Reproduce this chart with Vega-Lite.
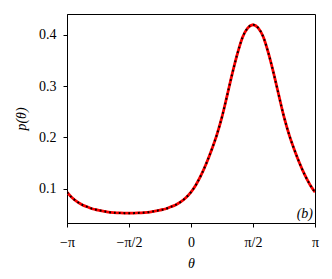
{
  "$schema": "https://vega.github.io/schema/vega-lite/v6.json",
  "width": 248,
  "height": 209,
  "autosize": "none",
  "padding": {"left": 67, "top": 14, "right": 17, "bottom": 56},
  "background": "white",
  "config": {
    "view": {"stroke": "#000000", "strokeWidth": 1},
    "font": "Liberation Serif",
    "axis": {
      "domainColor": "#000000",
      "tickColor": "#000000",
      "tickSize": 4,
      "labelColor": "#000000",
      "titleColor": "#000000",
      "labelFont": "Liberation Serif",
      "titleFont": "Liberation Serif",
      "labelFontSize": 14,
      "titleFontSize": 14,
      "titleFontWeight": "normal",
      "titleFontStyle": "italic",
      "grid": false
    }
  },
  "datasets": {
    "curve": [
      {"theta": -3.14159, "p": 0.093},
      {"theta": -3.01069, "p": 0.082},
      {"theta": -2.87979, "p": 0.074},
      {"theta": -2.74889, "p": 0.068},
      {"theta": -2.61799, "p": 0.064},
      {"theta": -2.48709, "p": 0.060},
      {"theta": -2.35619, "p": 0.058},
      {"theta": -2.22529, "p": 0.056},
      {"theta": -2.09440, "p": 0.054},
      {"theta": -1.96350, "p": 0.053},
      {"theta": -1.83260, "p": 0.0525},
      {"theta": -1.70170, "p": 0.052},
      {"theta": -1.57080, "p": 0.0518},
      {"theta": -1.43990, "p": 0.052},
      {"theta": -1.30900, "p": 0.0525},
      {"theta": -1.17810, "p": 0.053},
      {"theta": -1.04720, "p": 0.054},
      {"theta": -0.91630, "p": 0.056},
      {"theta": -0.78540, "p": 0.058},
      {"theta": -0.65450, "p": 0.060},
      {"theta": -0.52360, "p": 0.064},
      {"theta": -0.39270, "p": 0.068},
      {"theta": -0.26180, "p": 0.074},
      {"theta": -0.13090, "p": 0.082},
      {"theta": 0.0, "p": 0.093},
      {"theta": 0.13090, "p": 0.108},
      {"theta": 0.26180, "p": 0.127},
      {"theta": 0.39270, "p": 0.150},
      {"theta": 0.52360, "p": 0.176},
      {"theta": 0.65450, "p": 0.205},
      {"theta": 0.78540, "p": 0.240},
      {"theta": 0.91630, "p": 0.282},
      {"theta": 1.04720, "p": 0.325},
      {"theta": 1.17810, "p": 0.364},
      {"theta": 1.30900, "p": 0.396},
      {"theta": 1.43990, "p": 0.414},
      {"theta": 1.57080, "p": 0.420},
      {"theta": 1.70170, "p": 0.414},
      {"theta": 1.83260, "p": 0.396},
      {"theta": 1.96350, "p": 0.364},
      {"theta": 2.09440, "p": 0.325},
      {"theta": 2.22529, "p": 0.282},
      {"theta": 2.35619, "p": 0.240},
      {"theta": 2.48709, "p": 0.205},
      {"theta": 2.61799, "p": 0.176},
      {"theta": 2.74889, "p": 0.150},
      {"theta": 2.87979, "p": 0.127},
      {"theta": 3.01069, "p": 0.108},
      {"theta": 3.14159, "p": 0.093}
    ],
    "panel": [{"label": "(b)"}]
  },
  "layer": [
    {
      "data": {"name": "curve"},
      "mark": {"type": "line", "color": "#ff0000", "strokeWidth": 2.8, "interpolate": "monotone", "clip": true},
      "encoding": {
        "x": {
          "field": "theta",
          "type": "quantitative",
          "scale": {"domain": [-3.14159, 3.14159], "nice": false, "zero": false},
          "axis": {
            "title": "θ",
            "values": [-3.14159, -1.5708, 0, 1.5708, 3.14159],
            "labelExpr": "datum.value < -3 ? '−π' : datum.value < -1 ? '−π/2' : datum.value < 1 ? '0' : datum.value < 3 ? 'π/2' : 'π'",
            "labelPadding": 8,
            "titlePadding": 7,
            "labelFlush": false,
            "labelOverlap": false
          }
        },
        "y": {
          "field": "p",
          "type": "quantitative",
          "scale": {"domain": [0.0327, 0.441], "nice": false, "zero": false},
          "axis": {
            "title": "p(θ)",
            "values": [0.1, 0.2, 0.3, 0.4],
            "format": ".1f",
            "labelPadding": 7,
            "titlePadding": 10
          }
        }
      }
    },
    {
      "data": {"name": "curve"},
      "mark": {"type": "line", "color": "#000000", "strokeWidth": 2, "strokeDash": [1.8, 3], "strokeCap": "butt", "interpolate": "monotone", "clip": true},
      "encoding": {
        "x": {"field": "theta", "type": "quantitative"},
        "y": {"field": "p", "type": "quantitative"}
      }
    },
    {
      "data": {"name": "panel"},
      "mark": {"type": "text", "font": "Liberation Serif", "fontStyle": "italic", "fontSize": 14, "align": "right", "baseline": "alphabetic", "dx": -2, "dy": -5, "color": "#000000"},
      "encoding": {
        "text": {"field": "label", "type": "nominal"},
        "x": {"datum": 3.14159, "type": "quantitative"},
        "y": {"datum": 0.0327, "type": "quantitative"}
      }
    }
  ]
}
